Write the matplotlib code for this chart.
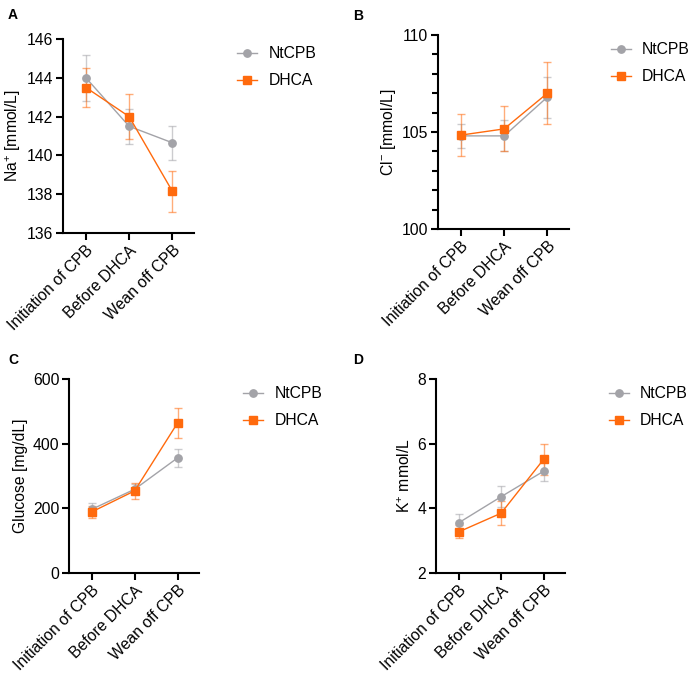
import numpy as np
import matplotlib
matplotlib.use('Agg')
from matplotlib import pyplot as plt

plt.rcParams['font.family'] = ['Liberation Sans', 'DejaVu Sans']
plt.rcParams['mathtext.fontset'] = 'custom'
plt.rcParams['mathtext.rm'] = 'Liberation Sans'
plt.rcParams['mathtext.it'] = 'Liberation Sans'

stages = ['Initiation of CPB', 'Before DHCA', 'Wean off CPB']
groups = ['NtCPB', 'DHCA']

na_mean = {'NtCPB': [144.0, 141.5, 140.65], 'DHCA': [143.5, 142.0, 138.15]}
na_err = {'NtCPB': [1.18, 0.9, 0.88], 'DHCA': [1.0, 1.14, 1.07]}

cl_mean = {'NtCPB': [104.8, 104.8, 106.8], 'DHCA': [104.84, 105.16, 107.0]}
cl_err = {'NtCPB': [0.6, 0.8, 1.06], 'DHCA': [1.07, 1.16, 1.6]}

glu_mean = {'NtCPB': [197, 259, 356], 'DHCA': [189, 254, 464]}
glu_err = {'NtCPB': [20, 16, 29], 'DHCA': [18, 24, 45]}

k_mean = {'NtCPB': [3.55, 4.36, 5.15], 'DHCA': [3.27, 3.85, 5.52]}
k_err = {'NtCPB': [0.27, 0.33, 0.3], 'DHCA': [0.2, 0.37, 0.48]}

colors = {'NtCPB': '#a3a3a8', 'DHCA': '#ff6a0d'}
markers = {'NtCPB': 'o', 'DHCA': 's'}

W, H = 694, 689
FS = 11.3


def rect(left, right, top, bottom):
    return [left / W, 1 - bottom / H, (right - left) / W, (bottom - top) / H]


def panel(fig, box, letter, letter_xy, mean, err, ylim, yticks, minor, ylabel, leg_x):
    ax = fig.add_axes(rect(*box))
    x = np.arange(len(stages))
    for g in groups:
        ax.errorbar(x, mean[g], yerr=err[g], fmt='none', ecolor=colors[g],
                    alpha=0.55, elinewidth=1.0, capsize=3.2, capthick=1.0, zorder=2)
        ax.plot(x, mean[g], color=colors[g], marker=markers[g], markersize=5.3,
                linewidth=1.0, label=g, zorder=3)
    ax.set_xlim(-0.53, 2.5)
    ax.set_ylim(*ylim)
    ax.set_yticks(yticks)
    if minor is not None:
        ax.set_yticks(minor, minor=True)
    ax.set_xticks(x)
    ax.set_xticklabels(stages, rotation=45, ha='right', rotation_mode='anchor')
    for s in ['top', 'right']:
        ax.spines[s].set_visible(False)
    for s in ['left', 'bottom']:
        ax.spines[s].set_linewidth(1.5)
    ax.tick_params(axis='both', which='major', length=5, width=1.5, labelsize=FS, pad=2)
    ax.tick_params(axis='y', which='minor', length=4, width=1.5)
    ax.set_ylabel(ylabel, fontsize=FS, labelpad=3)
    ax.legend(loc='upper left', bbox_to_anchor=(leg_x, 0.995), frameon=False,
              fontsize=FS, handlelength=1.3, handletextpad=0.7, labelspacing=0.75,
              borderaxespad=0.0)
    fig.text(letter_xy[0] / W, 1 - letter_xy[1] / H, letter, fontsize=10,
             fontweight='bold', va='center', ha='left')
    return ax


fig = plt.figure(figsize=(W / 100, H / 100), dpi=100)

panel(fig, (63, 194, 39, 233), 'A', (8, 15), na_mean, na_err, (136, 146),
      [136, 138, 140, 142, 144, 146], None, 'Na$^{+}$ [mmol/L]', 1.28)
panel(fig, (438, 569, 35, 229), 'B', (353, 16), cl_mean, cl_err, (100, 110),
      [100, 105, 110], np.arange(101, 110), 'Cl$^{-}$ [mmol/L]', 1.27)
panel(fig, (69, 199, 379, 573), 'C', (8, 360), glu_mean, glu_err, (0, 600),
      [0, 200, 400, 600], None, 'Glucose [mg/dL]', 1.29)
panel(fig, (436, 565, 379, 573), 'D', (353, 360), k_mean, k_err, (2, 8),
      [2, 4, 6, 8], None, 'K$^{+}$ mmol/L', 1.29)

fig.savefig('out.png', dpi=100)
